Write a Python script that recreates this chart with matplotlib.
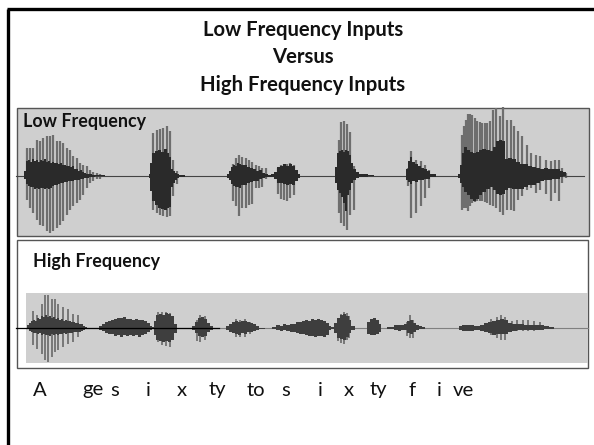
import matplotlib
matplotlib.use('Agg')
import matplotlib.pyplot as plt
from matplotlib.patches import Rectangle

plt.rcParams['font.family'] = ['Lato', 'DejaVu Sans']

title_lines = ["Low Frequency Inputs", "Versus", "High Frequency Inputs"]
low_label = "Low Frequency"
high_label = "High Frequency"
syllables = ["A", "ge", "s", "i", "x", "ty", "to", "s", "i", "x", "ty", "f", "i", "ve"]
syllable_x = [40, 93, 115, 148, 182, 217, 256, 286, 320, 349, 378, 412, 439, 463]

low_env_x = [16, 23, 25, 27, 29, 31, 33, 35, 37, 39, 41, 43, 45, 47, 49, 51, 53, 55, 57, 59, 61,
             63, 65, 67, 69, 71, 73, 75, 77, 79, 81, 83, 85, 87, 90, 93, 96, 100, 110, 148,
             149, 151, 153, 156, 159, 162, 165, 168, 170, 172, 174, 176, 178, 180, 190, 226,
             228, 230, 232, 234, 236, 238, 240, 242, 245, 248, 251, 254, 257, 260, 263, 266, 269,
             272, 275, 278, 281, 284, 287, 290, 293, 296, 299, 301, 334,
             336, 338, 340, 342, 344, 346, 348, 350, 352, 354, 357, 360, 365, 370, 378, 405,
             407, 409, 411, 413, 416, 419, 422, 425, 428, 431, 434, 438, 457,
             459, 461, 463, 465, 468, 471, 474, 477, 480, 484, 488, 491, 494, 497, 500, 503,
             506, 510, 514, 518, 522, 526, 530, 534, 538, 542, 546, 550, 554, 558, 562, 564, 567, 584]
low_env_up = [0.5, 1, 6, 16, 17, 15, 18, 16, 17, 15, 17, 16, 18, 15, 16, 14, 15, 14, 14, 13, 14,
              12, 12, 11, 11, 10, 11, 8, 8, 6, 7, 5, 4, 3, 3, 2, 2, 2, 1, 1,
              3, 14, 24, 26, 27, 25, 28, 24, 20, 8, 6, 4, 3, 2, 1, 1,
              3, 6, 10, 12, 11, 14, 13, 12, 12, 10, 9, 8, 6, 7, 4, 3, 2,
              3, 5, 10, 11, 13, 11, 13, 11, 7, 3, 1, 1,
              10, 24, 26, 27, 25, 27, 26, 22, 14, 8, 5, 3, 3, 2, 1, 1,
              8, 16, 20, 15, 13, 11, 9, 8, 6, 3, 3, 1, 1,
              3, 12, 24, 30, 27, 25, 24, 25, 27, 28, 27, 26, 30, 36, 37, 36,
              18, 19, 18, 15, 13, 13, 11, 10, 9, 8, 9, 8, 8, 8, 6, 5, 1, 0.5]
low_env_down = [0.5, 1, 4, 9, 11, 12, 12, 14, 13, 14, 13, 13, 14, 13, 14, 13, 11, 10, 10, 9, 8,
                8, 7, 7, 6, 6, 6, 5, 5, 5, 4, 4, 3, 3, 2, 2, 1, 1, 1, 1,
                3, 16, 26, 30, 33, 34, 35, 33, 32, 12, 8, 5, 3, 2, 1, 1,
                3, 5, 9, 11, 12, 12, 13, 10, 10, 8, 7, 6, 6, 4, 3, 2, 2,
                2, 4, 8, 8, 9, 10, 9, 10, 6, 3, 1, 1,
                8, 15, 18, 22, 28, 36, 20, 15, 8, 5, 3, 2, 2, 1, 1, 1,
                5, 7, 9, 6, 7, 5, 5, 4, 4, 2, 2, 1, 1,
                3, 8, 12, 17, 20, 24, 26, 24, 20, 17, 14, 12, 15, 19, 20, 19,
                15, 13, 14, 14, 14, 12, 10, 10, 8, 6, 5, 5, 4, 4, 2, 1, 1, 0.5]
low_spike_x = [27, 30, 33, 37, 40, 43, 47, 50, 53, 57, 60, 63, 67, 70, 73, 77, 80, 83, 87, 90, 93, 97, 100,
               153, 157, 160, 163, 167, 170, 173, 177,
               233, 236, 239, 242, 246, 249, 252, 256, 259, 262, 266,
               278, 281, 284, 287, 290, 294,
               339, 341, 344, 347, 350, 354,
               408, 411, 416, 421, 425, 429,
               462, 464, 466, 468, 470, 472, 475, 477, 480, 482, 485, 487, 490, 493, 496, 500,
               503, 507, 511, 514, 518, 522, 527, 531, 536, 540, 546, 551, 555, 559, 562, 566]
low_spike_up = [28, 28, 28, 36, 35, 38, 40, 40, 41, 35, 35, 33, 28, 26, 20, 18, 13, 11, 10, 6, 4, 3, 2,
                43, 46, 47, 48, 50, 45, 16, 5,
                12, 18, 21, 19, 18, 16, 14, 11, 10, 8, 8,
                8, 11, 12, 12, 13, 11,
                36, 54, 55, 52, 44, 10,
                8, 25, 16, 15, 11, 6,
                41, 50, 56, 62, 62, 61, 58, 55, 54, 53, 53, 53, 55, 66, 68, 60,
                69, 56, 56, 50, 45, 40, 31, 23, 21, 20, 16, 15, 16, 16, 8, 3]
low_spike_down = [24, 32, 37, 44, 49, 50, 55, 57, 55, 52, 49, 45, 39, 34, 30, 27, 24, 19, 12, 7, 5, 3, 3,
                  34, 37, 39, 40, 41, 40, 20, 8,
                  25, 30, 40, 32, 32, 29, 28, 12, 12, 11, 3,
                  18, 23, 24, 25, 22, 19,
                  37, 47, 50, 54, 39, 34,
                  10, 42, 37, 30, 22, 12,
                  34, 32, 32, 35, 30, 27, 26, 25, 25, 25, 26, 27, 29, 30, 32, 36,
                  39, 34, 34, 35, 24, 20, 14, 12, 17, 14, 18, 25, 17, 25, 7, 2]

# high frequency waveform
high_env_x = [26, 28, 30, 32, 34, 36, 38, 40, 42, 44, 46, 48, 50, 52, 54, 56, 58, 60, 62, 64, 66, 68, 70, 72,
              74, 76, 78, 80, 82, 84, 86, 88, 97,
              100, 103, 106, 109, 112, 115, 118, 121, 124, 127, 130, 133, 136, 139, 142, 145, 148, 151, 153,
              155, 157, 160, 163, 166, 169, 172, 175, 178, 190,
              193, 196, 199, 202, 205, 208, 211, 215, 225,
              227, 230, 233, 236, 239, 242, 245, 248, 251, 254, 257, 260, 270,
              274, 278, 281, 284, 288, 291, 294, 297, 300, 303, 306, 309, 312, 315, 318, 321, 324, 327, 330, 332,
              335, 338, 341, 344, 347, 350, 352, 357, 366,
              368, 371, 374, 377, 380, 382, 392,
              396, 399, 402, 405, 408, 411, 414, 417, 420, 423, 426, 457,
              460, 464, 470, 477, 482, 486, 490, 494, 498, 502, 506, 510, 514, 520, 527, 534, 541, 547, 551, 557, 588]
high_env_up = [1, 4, 6, 8, 9, 8, 11, 10, 13, 12, 14, 12, 13, 11, 12, 10, 11, 9, 10, 8, 9, 8, 8, 7,
               7, 6, 6, 5, 5, 3, 2, 1, 1,
               3, 5, 7, 8, 9, 10, 11, 11, 12, 10, 10, 9, 10, 9, 9, 8, 6, 3, 2,
               8, 14, 15, 14, 16, 15, 13, 5, 1, 1,
               3, 7, 11, 12, 10, 6, 3, 1, 1,
               3, 5, 7, 8, 7, 8, 8, 7, 6, 5, 3, 1, 1,
               2, 4, 3, 5, 4, 5, 5, 7, 7, 8, 9, 8, 10, 9, 10, 9, 8, 6, 3, 2,
               6, 11, 14, 15, 13, 9, 3, 1, 1,
               7, 10, 11, 9, 5, 1, 2,
               4, 4, 4, 5, 8, 9, 6, 4, 3, 2, 1, 1,
               3, 4, 4, 3, 4, 6, 7, 8, 9, 10, 9, 6, 5, 5, 4, 4, 4, 3, 2, 1, 0.5]
high_env_down = [1, 2, 4, 5, 6, 6, 7, 6, 8, 7, 8, 8, 9, 7, 8, 7, 8, 7, 7, 6, 7, 6, 6, 6,
                 5, 5, 5, 5, 4, 3, 2, 1, 1,
                 3, 4, 6, 7, 7, 9, 8, 10, 8, 9, 8, 9, 8, 10, 8, 7, 5, 3, 2,
                 8, 13, 14, 15, 14, 15, 13, 6, 1, 1,
                 3, 6, 9, 10, 9, 5, 3, 1, 1,
                 3, 5, 6, 7, 8, 6, 7, 5, 5, 4, 3, 2, 1,
                 2, 3, 4, 3, 4, 5, 5, 6, 7, 7, 8, 9, 9, 10, 9, 9, 10, 8, 3, 2,
                 6, 11, 12, 13, 10, 6, 3, 1, 1,
                 7, 8, 8, 7, 5, 1, 2,
                 3, 4, 3, 3, 6, 7, 5, 3, 2, 2, 1, 1,
                 3, 4, 4, 3, 4, 5, 6, 8, 7, 7, 7, 5, 4, 3, 3, 3, 3, 2, 2, 1, 0.5]
high_spike_x = [33, 37, 42, 45, 48, 52, 55, 58, 63, 68, 73, 78,
                158, 162, 166, 170, 173, 197, 200, 205,
                236, 240, 245, 250, 338, 341, 344, 347, 349, 407, 410, 413,
                491, 497, 501, 505, 512, 517, 523, 528, 534, 540]
high_spike_up = [17, 13, 24, 33, 33, 29, 29, 24, 21, 19, 14, 13,
                 16, 16, 16, 15, 8, 8, 13, 12,
                 9, 8, 9, 6, 10, 14, 16, 15, 12, 6, 13, 8,
                 9, 11, 13, 11, 7, 8, 8, 8, 7, 6]
high_spike_down = [17, 21, 26, 32, 34, 29, 24, 22, 19, 16, 14, 9,
                   14, 17, 18, 19, 8, 13, 14, 12,
                   9, 9, 9, 6, 13, 15, 16, 12, 10, 8, 10, 10,
                   7, 10, 12, 12, 3, 3, 3, 3, 3, 2]


def draw_wave(ax, mid, env_x, env_up, env_down, spike_x, spike_up, spike_down, dark, light, lw, base):
    """Grey spikes behind, hairline centre, solid blocky envelope on top"""
    tops = [mid - a for a in spike_up]
    bottoms = [mid + a for a in spike_down]
    ax.vlines(spike_x, tops, bottoms, color=light, lw=lw, zorder=3)
    ax.plot([env_x[0], env_x[-1]], [mid, mid], color=base, lw=0.8, zorder=3)
    ax.fill_between(env_x, [mid - max(a - 0.6, 0.3) for a in env_up], [mid + max(a - 0.6, 0.3) for a in env_down],
                    step='mid', color=dark, lw=0, zorder=4)


fig = plt.figure(figsize=(5.94, 4.45), dpi=100)
ax = fig.add_axes([0, 0, 1, 1])
ax.set_xlim(0, 594)
ax.set_ylim(445, 0)
ax.axis('off')

# slide frame, left and top only
ax.plot([7.5, 7.5], [445, 8.5], color='black', lw=2.4, solid_capstyle='butt', zorder=5)
ax.plot([6.5, 594], [8.5, 8.5], color='black', lw=2.4, solid_capstyle='butt', zorder=5)

for y, line in zip([30, 57, 85], title_lines):
    ax.text(303, y, line, ha='center', va='center', fontsize=14.6, fontweight='bold', color='#111111')

ax.add_patch(Rectangle((16.5, 108), 572, 128, fc='#cfcfcf', ec='#555555', lw=1.0, zorder=1))
draw_wave(ax, 176, low_env_x, low_env_up, low_env_down, low_spike_x, low_spike_up, low_spike_down,
          '#2a2a2a', '#6e6e6e', 1.6, '#444444')
ax.text(23, 122, low_label, ha='left', va='center', fontsize=12.9, fontweight='bold', color='#111111', zorder=6)

ax.add_patch(Rectangle((17, 240), 571, 128, fc='white', ec='#555555', lw=1.0, zorder=1))
ax.add_patch(Rectangle((26, 293), 562, 70, fc='#cfcfcf', ec='none', zorder=2))
draw_wave(ax, 328, high_env_x, high_env_up, high_env_down, high_spike_x, high_spike_up, high_spike_down,
          '#3e3e3e', '#707070', 1.3, '#808080')
ax.plot([16, 219], [327.5, 327.5], color='black', lw=0.9, zorder=5)
ax.text(33, 261, high_label, ha='left', va='center', fontsize=12.9, fontweight='bold', color='#111111')

for label, x in zip(syllables, syllable_x):
    ax.text(x, 390, label, ha='center', va='center', fontsize=14.6, color='#111111')

fig.savefig('out.png', dpi=100)
